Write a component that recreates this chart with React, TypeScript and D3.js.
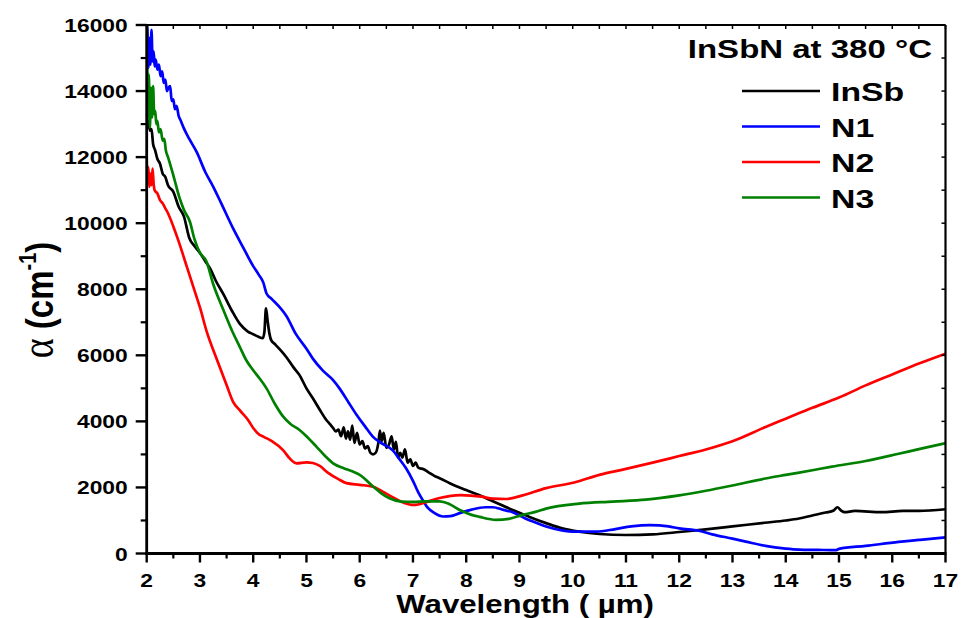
import * as d3 from "d3";
import { useEffect, useRef } from "react";

// Axis ticks
const xMajorTicks = [2, 3, 4, 5, 6, 7, 8, 9, 10, 11, 12, 13, 14, 15, 16, 17];
const yMajorTicks = [0, 2000, 4000, 6000, 8000, 10000, 12000, 14000, 16000];

const seriesNames = ["InSb", "N1", "N2", "N3"];
const seriesColors = ["#000000", "#0000ff", "#ff0000", "#008000"];
const legendTitle = "InSbN at 380 °C";

// wavelength (µm), alpha (cm^-1)
const inSb: [number, number][] = [
  [2.0, 13300], [2.02, 12900], [2.04, 13100], [2.06, 12800], [2.09, 12850], [2.12, 12400],
  [2.16, 12200], [2.2, 11950], [2.25, 11800], [2.3, 11500], [2.35, 11400], [2.4, 11150],
  [2.5, 10950], [2.6, 10500], [2.7, 10200], [2.8, 9550], [2.9, 9300], [3.0, 9100],
  [3.1, 8850], [3.2, 8600], [3.3, 8250], [3.44, 7850], [3.6, 7350], [3.75, 6950],
  [3.9, 6720], [4.0, 6640], [4.1, 6560], [4.18, 6520], [4.21, 6700], [4.24, 7420],
  [4.27, 7050], [4.3, 6700], [4.34, 6450], [4.4, 6350], [4.5, 6180], [4.62, 5950],
  [4.75, 5650], [4.87, 5400], [5.0, 5000], [5.12, 4700], [5.25, 4350], [5.37, 4050],
  [5.45, 3900], [5.5, 3800], [5.55, 3700], [5.6, 3750], [5.65, 3550], [5.7, 3820],
  [5.74, 3480], [5.78, 3700], [5.82, 3450], [5.86, 3870], [5.9, 3350], [5.95, 3650],
  [6.0, 3300], [6.05, 3400], [6.1, 3180], [6.15, 3250], [6.2, 3050], [6.25, 3000],
  [6.3, 3050], [6.35, 3350], [6.38, 3720], [6.41, 3400], [6.45, 3650], [6.5, 3200],
  [6.55, 3300], [6.6, 3550], [6.64, 3150], [6.68, 3380], [6.72, 2900], [6.76, 3050],
  [6.8, 2900], [6.85, 3150], [6.9, 2750], [6.95, 2850], [7.0, 2650], [7.05, 2750],
  [7.1, 2600], [7.2, 2550], [7.3, 2450], [7.4, 2350], [7.5, 2280], [7.7, 2120],
  [8.0, 1920], [8.25, 1760], [8.5, 1580], [8.87, 1320], [9.2, 1100], [9.5, 920],
  [9.8, 760], [10.12, 660], [10.5, 590], [11.0, 560], [11.5, 580], [12.0, 650],
  [12.5, 730], [13.0, 820], [13.6, 930], [14.0, 1000], [14.25, 1060], [14.5, 1150],
  [14.75, 1240], [14.9, 1300], [14.97, 1400], [15.04, 1300], [15.1, 1250], [15.3, 1290],
  [15.8, 1250], [16.2, 1290], [16.5, 1290], [17.0, 1340],
];

const n1: [number, number][] = [
  [2.0, 14800], [2.01, 16000], [2.03, 14700], [2.05, 15600], [2.07, 14800], [2.09, 15850],
  [2.11, 14900], [2.13, 15200], [2.15, 14750], [2.17, 14950], [2.2, 14650], [2.23, 14800],
  [2.26, 14450], [2.29, 14600], [2.32, 14250], [2.35, 14350], [2.38, 14000], [2.41, 14100],
  [2.44, 14150], [2.47, 13700], [2.5, 13750], [2.53, 13450], [2.56, 13550], [2.6, 13250],
  [2.64, 13100], [2.69, 12900], [2.8, 12550], [2.94, 12150], [3.1, 11550], [3.25, 11100],
  [3.4, 10600], [3.62, 9850], [3.8, 9300], [4.0, 8700], [4.1, 8450], [4.19, 8200],
  [4.25, 7870], [4.35, 7700], [4.5, 7450], [4.62, 7200], [4.8, 6650], [5.0, 6200],
  [5.12, 5900], [5.3, 5550], [5.5, 5250], [5.62, 5000], [5.8, 4550], [5.94, 4200],
  [6.1, 3850], [6.25, 3530], [6.4, 3350], [6.62, 3120], [6.75, 2850], [6.87, 2580],
  [7.0, 2200], [7.1, 1850], [7.19, 1600], [7.26, 1420], [7.4, 1230], [7.57, 1120],
  [7.7, 1130], [7.89, 1230], [8.1, 1330], [8.37, 1400], [8.5, 1400], [8.7, 1320],
  [8.87, 1250], [9.1, 1070], [9.3, 940], [9.5, 820], [9.8, 700], [10.0, 660],
  [10.44, 660], [10.8, 740], [11.1, 820], [11.45, 860], [11.8, 820], [12.0, 760],
  [12.37, 690], [12.62, 580], [13.0, 450], [13.25, 360], [13.62, 230], [14.0, 150],
  [14.25, 120], [14.6, 110], [14.94, 100], [15.0, 140], [15.5, 230], [16.12, 350],
  [16.5, 410], [17.0, 490],
];

const n2: [number, number][] = [
  [2.0, 12000], [2.01, 11300], [2.03, 11700], [2.05, 11100], [2.07, 11500], [2.09, 11150],
  [2.11, 11650], [2.13, 11200], [2.15, 11000], [2.2, 10900], [2.25, 10700], [2.3, 10600],
  [2.35, 10450], [2.4, 10300], [2.5, 9900], [2.6, 9450], [2.75, 8700], [2.9, 7950],
  [3.0, 7450], [3.13, 6700], [3.3, 5950], [3.5, 5100], [3.62, 4600], [3.75, 4330],
  [3.9, 4050], [4.0, 3800], [4.1, 3620], [4.2, 3530], [4.35, 3400], [4.56, 3130],
  [4.7, 2850], [4.81, 2730], [5.0, 2760], [5.12, 2740], [5.25, 2650], [5.4, 2450],
  [5.6, 2250], [5.75, 2130], [6.0, 2080], [6.25, 2020], [6.46, 1850], [6.6, 1720],
  [6.78, 1570], [7.02, 1470], [7.26, 1560], [7.5, 1680], [7.89, 1770], [8.29, 1720],
  [8.5, 1660], [8.76, 1650], [9.06, 1760], [9.5, 1980], [10.03, 2150], [10.5, 2380],
  [11.0, 2560], [11.5, 2750], [12.0, 2950], [12.5, 3150], [13.0, 3400], [13.62, 3830],
  [14.0, 4080], [14.5, 4410], [15.0, 4720], [15.5, 5090], [16.0, 5420], [16.5, 5750],
  [17.0, 6050],
];

const n3: [number, number][] = [
  [2.0, 14100], [2.01, 14700], [2.02, 13200], [2.04, 14500], [2.06, 12900], [2.08, 14100],
  [2.1, 13200], [2.12, 14150], [2.14, 13300], [2.16, 13400], [2.18, 13000], [2.2, 13100],
  [2.23, 12750], [2.26, 12850], [2.3, 12500], [2.33, 12550], [2.36, 12200], [2.4, 12000],
  [2.5, 11450], [2.62, 10750], [2.7, 10400], [2.81, 10050], [2.9, 9500], [3.0, 9100],
  [3.12, 8850], [3.25, 8150], [3.44, 7370], [3.6, 6750], [3.75, 6250], [3.87, 5850],
  [4.0, 5550], [4.12, 5300], [4.25, 5000], [4.4, 4550], [4.56, 4150], [4.7, 3920],
  [4.87, 3740], [5.0, 3550], [5.19, 3230], [5.35, 2950], [5.5, 2730], [5.7, 2580],
  [5.87, 2480], [6.0, 2380], [6.25, 2030], [6.4, 1830], [6.56, 1670], [6.78, 1570],
  [7.0, 1560], [7.26, 1580], [7.5, 1580], [7.68, 1500], [7.9, 1300], [8.1, 1170],
  [8.25, 1110], [8.56, 1020], [8.8, 1050], [9.06, 1170], [9.3, 1260], [9.5, 1360],
  [10.12, 1510], [10.75, 1570], [11.37, 1630], [12.0, 1760], [12.5, 1900], [13.0, 2060],
  [13.62, 2270], [14.0, 2380], [14.5, 2520], [14.87, 2630], [15.5, 2800], [16.12, 3020],
  [16.5, 3160], [17.0, 3340],
];

const seriesData = [inSb, n1, n2, n3];

const W = 961;
const H = 618;
const FONT = "'Liberation Sans', Arial, sans-serif";
const SX = 1.2; // the original picture is stretched horizontally

const App = () => {
  const ref = useRef<SVGSVGElement | null>(null);

  useEffect(() => {
    if (!ref.current) return;
    const svg = d3.select(ref.current);
    svg.selectAll("*").remove();

    const left = 146.7;
    const right = 945.5;
    const top = 25;
    const bottom = 553.5;

    const x = d3.scaleLinear().domain([2, 17]).range([left, right]);
    const y = d3.scaleLinear().domain([0, 16000]).range([bottom, top]);

    svg.append("rect").attr("width", W).attr("height", H).attr("fill", "#fff");

    svg
      .append("clipPath")
      .attr("id", "plot-clip")
      .append("rect")
      .attr("x", left)
      .attr("y", top - 1)
      .attr("width", right - left)
      .attr("height", bottom - top + 1);

    // curves
    const line = d3
      .line<[number, number]>()
      .x((d) => x(d[0]))
      .y((d) => y(d[1]))
      .curve(d3.curveMonotoneX);

    const gLines = svg.append("g").attr("clip-path", "url(#plot-clip)");
    seriesData.forEach((data, i) => {
      gLines
        .append("path")
        .datum(data)
        .attr("fill", "none")
        .attr("stroke", seriesColors[i])
        .attr("stroke-width", 2.7)
        .attr("stroke-linejoin", "round")
        .attr("d", line);
    });

    // frame
    const gAxis = svg.append("g").attr("stroke", "#000").attr("fill", "none");
    gAxis.append("line").attr("x1", left).attr("x2", right).attr("y1", top).attr("y2", top).attr("stroke-width", 2);
    gAxis.append("line").attr("x1", right).attr("x2", right).attr("y1", top).attr("y2", bottom).attr("stroke-width", 2.2);
    gAxis.append("line").attr("x1", left).attr("x2", left).attr("y1", top - 1).attr("y2", bottom + 1.5).attr("stroke-width", 2.8);
    gAxis.append("line").attr("x1", left - 1.4).attr("x2", right + 1).attr("y1", bottom).attr("y2", bottom).attr("stroke-width", 2.8);

    // x ticks: majors every 1, minors every 0.5
    const xMinor = xMajorTicks.slice(0, -1).map((t) => t + 0.5);
    xMajorTicks.forEach((t) => {
      gAxis.append("line").attr("x1", x(t)).attr("x2", x(t)).attr("y1", bottom).attr("y2", bottom + 9).attr("stroke-width", 2.4);
    });
    xMinor.forEach((t) => {
      gAxis.append("line").attr("x1", x(t)).attr("x2", x(t)).attr("y1", bottom).attr("y2", bottom + 5).attr("stroke-width", 2.2);
    });
    [...xMajorTicks, ...xMinor].forEach((t) => {
      gAxis.append("line").attr("x1", x(t)).attr("x2", x(t)).attr("y1", top).attr("y2", top + 4).attr("stroke-width", 1.5);
    });

    // y ticks: majors every 2000, minors every 1000
    const yMinor = yMajorTicks.slice(0, -1).map((t) => t + 1000);
    yMajorTicks.forEach((t) => {
      gAxis.append("line").attr("x1", left - 11).attr("x2", left).attr("y1", y(t)).attr("y2", y(t)).attr("stroke-width", 2.4);
    });
    yMinor.forEach((t) => {
      gAxis.append("line").attr("x1", left - 6).attr("x2", left).attr("y1", y(t)).attr("y2", y(t)).attr("stroke-width", 2.2);
    });
    [...yMajorTicks, ...yMinor].forEach((t) => {
      gAxis.append("line").attr("x1", right - 4).attr("x2", right).attr("y1", y(t)).attr("y2", y(t)).attr("stroke-width", 1.5);
    });

    // tick labels
    const gText = svg.append("g").attr("font-family", FONT).attr("font-weight", "bold").attr("fill", "#000");
    xMajorTicks.forEach((t) => {
      gText
        .append("text")
        .attr("transform", `translate(${x(t)},${bottom + 33}) scale(${SX},1)`)
        .attr("text-anchor", "middle")
        .attr("font-size", 19)
        .text(String(t));
    });
    yMajorTicks.forEach((t) => {
      gText
        .append("text")
        .attr("transform", `translate(${left - 19},${y(t) + 7}) scale(${SX},1)`)
        .attr("text-anchor", "end")
        .attr("font-size", 19)
        .text(String(t));
    });

    // axis titles
    gText
      .append("text")
      .attr("transform", `translate(${(left + right) / 2 - 21},${613}) scale(${SX},1)`)
      .attr("text-anchor", "middle")
      .attr("font-size", 26)
      .text("Wavelength ( µm)");

    const yTitle = gText
      .append("text")
      .attr("transform", `translate(53,300) scale(${SX},1) rotate(-90)`)
      .attr("text-anchor", "middle")
      .attr("font-size", 33);
    yTitle.append("tspan").attr("font-family", "'Liberation Serif', serif").attr("font-weight", "normal").attr("font-size", 38).text("α");
    yTitle.append("tspan").text(" (cm");
    yTitle.append("tspan").attr("font-size", 20).attr("dy", -14).text("-1");
    yTitle.append("tspan").attr("dy", 14).text(")");

    // legend
    gText
      .append("text")
      .attr("transform", `translate(932,58) scale(1.32,1)`)
      .attr("text-anchor", "end")
      .attr("font-size", 25)
      .text(legendTitle);

    seriesNames.forEach((name, i) => {
      const cy = 91 + i * 35.5;
      svg
        .append("line")
        .attr("x1", 742)
        .attr("x2", 820)
        .attr("y1", cy)
        .attr("y2", cy)
        .attr("stroke", seriesColors[i])
        .attr("stroke-width", 2.7);
      gText
        .append("text")
        .attr("transform", `translate(831,${cy + 10}) scale(1.3,1)`)
        .attr("font-size", 26)
        .text(name);
    });
  }, []);

  return (
    <svg
      ref={ref}
      width={W}
      height={H}
      style={{ position: "absolute", left: 0, top: 0, display: "block" }}
    />
  );
};

export default App;
